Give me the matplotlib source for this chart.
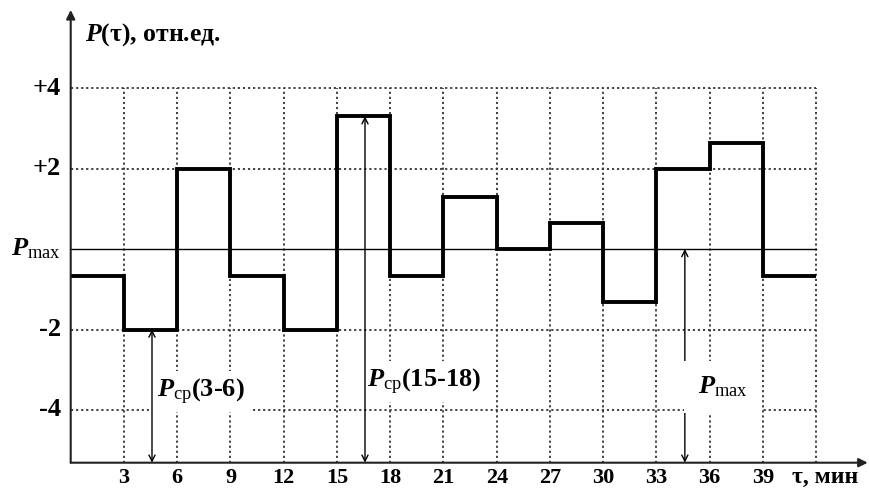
import matplotlib
matplotlib.use("Agg")
import matplotlib.pyplot as plt
from matplotlib.patches import FancyArrowPatch

plt.rcParams['font.family'] = ['Liberation Serif', 'DejaVu Serif']
plt.rcParams['mathtext.fontset'] = 'custom'
plt.rcParams['mathtext.it'] = 'Liberation Serif:italic:bold'
plt.rcParams['mathtext.rm'] = 'Liberation Serif'
plt.rcParams['mathtext.bf'] = 'Liberation Serif:bold'

# ---- data ----
edges = [0, 3, 6, 9, 12, 15, 18, 21, 24, 27, 30, 33, 36, 39, 42]
values = [-0.67, -2, 2, -0.67, -2, 3.3, -0.67, 1.3, 0, 0.65, -1.31, 2, 2.64, -0.67]
x_ticks = [3, 6, 9, 12, 15, 18, 21, 24, 27, 30, 33, 36, 39]
x_tick_labels = ["3", "6", "9", "12", "15", "18", "21", "24", "27", "30", "33", "36", "39"]
y_ticks = [4, 2, 0, -2, -4]
y_tick_labels = ["+4", "+2", r"$\mathit{P}_{\mathrm{max}}$", "-2", "-4"]
grid_x = [3, 6, 9, 12, 15, 18, 21, 24, 27, 30, 33, 36, 39, 42]
grid_y = [4, 2, -2, -4]

YMIN, YMAX = -5.31, 5.94
XMIN, XMAX = 0, 44.9

fig = plt.figure(figsize=(8.69, 4.88), dpi=100)
ax = fig.add_axes([70.7 / 869, (488 - 462.7) / 488, 44.9 * 17.75 / 869, 452.7 / 488])
ax.set_xlim(XMIN, XMAX)
ax.set_ylim(YMIN, YMAX)
ax.axis('off')

dot = (0, (1.2, 1.6))
for gx in grid_x:
    ax.plot([gx, gx], [YMIN, 4], color='#333333', lw=1.3, linestyle=dot, zorder=1)
for gy in grid_y:
    ax.plot([0, 42], [gy, gy], color='#333333', lw=1.3, linestyle=dot, zorder=1)
ax.plot([0, 42], [0, 0], color='black', lw=1.0, zorder=1)

# axes with arrows
ax.add_patch(FancyArrowPatch((0, YMIN), (0, YMAX), arrowstyle='-|>', mutation_scale=13,
                             lw=1.5, color='#222222', shrinkA=0, shrinkB=0, zorder=6, clip_on=False))
ax.add_patch(FancyArrowPatch((0, YMIN), (XMAX, YMIN), arrowstyle='-|>', mutation_scale=13,
                             lw=1.5, color='#222222', shrinkA=0, shrinkB=0, zorder=6, clip_on=False))

# step line
ax.stairs(values, edges, baseline=None, color='black', lw=2.8, zorder=4)

# double arrows
arrows = [(4.58, values[1]), (16.58, values[5]), (34.6, 0)]
for ax_x, top in arrows:
    ax.annotate('', xy=(ax_x, top), xytext=(ax_x, YMIN),
                arrowprops=dict(arrowstyle='<->', lw=1.0, color='black',
                                shrinkA=0, shrinkB=0, mutation_scale=11),
                zorder=3)

LBL = 19
box = dict(facecolor='white', edgecolor='none', pad=4)
ax.text(4.86, -3.55, r"$\mathit{P}_{\mathrm{ср}}$(3-6)", fontsize=LBL, fontweight='bold',
        ha='left', va='center', bbox=box, zorder=2)
ax.text(16.69, -3.30, r"$\mathit{P}_{\mathrm{ср}}$(15-18)", fontsize=LBL, fontweight='bold',
        ha='left', va='center', bbox=box, zorder=2)
ax.text(35.34, -3.43, r"$\mathit{P}_{\mathrm{max}}$", fontsize=LBL, fontweight='bold',
        ha='left', va='center', bbox=dict(facecolor='white', edgecolor='none', pad=10), zorder=5)

# tick labels
for xt, lab in zip(x_ticks, x_tick_labels):
    ax.text(xt, -5.68, lab, fontsize=16, fontweight='bold', ha='center', va='center', clip_on=False)
for yt, lab in zip(y_ticks, y_tick_labels):
    ax.text(-0.55, yt, lab, fontsize=19, fontweight='bold', ha='right', va='center', clip_on=False)

ax.text(42.5, -5.68, "τ, мин", fontsize=17, fontweight='bold', ha='center', va='center', clip_on=False)
ax.text(0.8, 5.32, r"$\mathit{P}$(τ), отн.ед.", fontsize=18.5, fontweight='bold',
        ha='left', va='center', clip_on=False)

fig.savefig("out.png", dpi=100)
